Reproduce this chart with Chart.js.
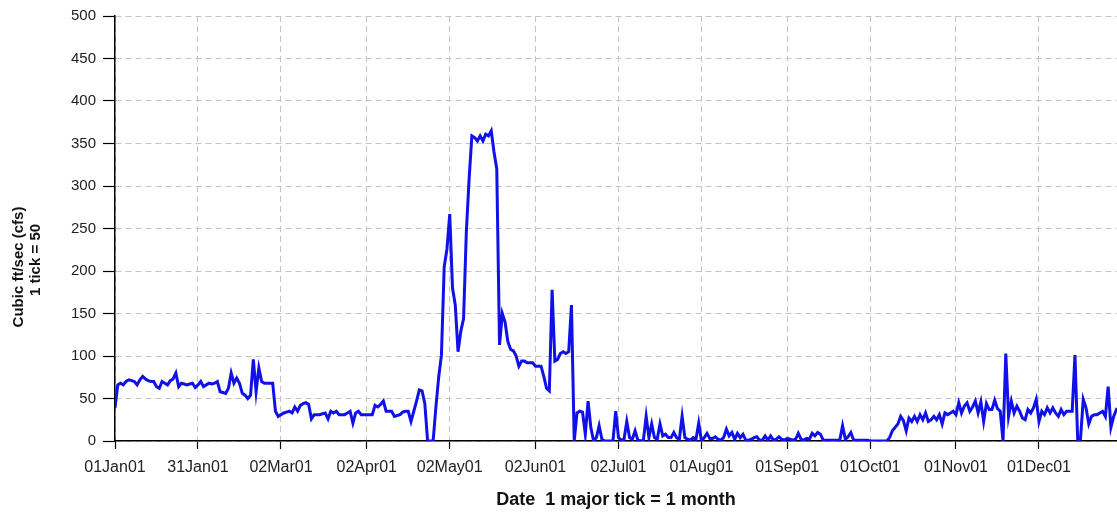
<!DOCTYPE html>
<html>
<head>
<meta charset="utf-8">
<script src="https://cdn.jsdelivr.net/npm/chart.js@4.4.1/dist/chart.umd.min.js"></script>
<style>
  body { margin: 0; background: #fff; }
  #wrap { width: 1117px; height: 515px; }
</style>
</head>
<body>
<div id="wrap"><canvas id="flowChart"></canvas></div>
<script>
// daily flow 2001, day 0 = 01Jan01
const flowCfs = [
  39, 66, 68, 66, 70, 72, 71, 70, 66, 72,
  76, 73, 71, 70, 70, 64, 62, 70, 68, 66,
  71, 73, 80, 64, 68, 67, 66, 67, 68, 63,
  66, 70, 64, 66, 68, 67, 68, 70, 58, 57,
  56, 62, 80, 68, 74, 68, 56, 54, 50, 54,
  96, 58, 86, 70, 68, 68, 68, 68, 35, 29,
  31, 33, 34, 35, 33, 40, 35, 42, 44, 45,
  43, 26, 31, 31, 31, 32, 33, 26, 35, 33,
  35, 31, 31, 31, 33, 35, 21, 33, 35, 31,
  31, 31, 31, 31, 42, 40, 43, 47, 35, 35,
  35, 29, 30, 31, 34, 35, 35, 23, 35, 47,
  60, 59, 44, 0, 0, 0, 40, 75, 101, 205,
  226, 267, 180, 160, 105, 129, 144, 246, 308, 359,
  357, 353, 359, 353, 361, 359, 365, 340, 320, 113,
  150, 140, 117, 108, 106, 100, 88, 94, 94, 92,
  92, 92, 88, 88, 88, 76, 62, 59, 178, 94,
  96, 103, 105, 103, 105, 160, 0, 33, 35, 34,
  8, 47, 16, 0, 4, 18, 2, 0, 0, 0,
  0, 35, 4, 1, 2, 23, 4, 2, 12, 1,
  0, 1, 29, 4, 20, 4, 2, 20, 6, 8,
  4, 4, 10, 4, 2, 29, 4, 2, 1, 4,
  2, 21, 0, 4, 9, 3, 3, 5, 2, 1,
  4, 14, 6, 10, 2, 9, 4, 8, 1, 1,
  2, 4, 5, 1, 1, 6, 1, 6, 1, 2,
  5, 2, 1, 3, 2, 1, 2, 9, 2, 1,
  3, 2, 9, 6, 10, 8, 1, 1, 1, 1,
  1, 1, 1, 18, 2, 5, 10, 1, 1, 1,
  1, 1, 1, 0, 0, 0, 0, 0, 0, 0,
  4, 12, 16, 20, 29, 24, 12, 27, 23, 29,
  23, 31, 25, 33, 23, 25, 29, 25, 31, 20,
  33, 31, 33, 35, 31, 45, 33, 41, 45, 35,
  40, 47, 33, 46, 23, 44, 37, 37, 48, 38,
  35, 0, 103, 29, 47, 33, 41, 35, 27, 25,
  37, 33, 39, 49, 23, 35, 31, 39, 33, 39,
  33, 29, 37, 31, 35, 35, 35, 101, 0, 2,
  49, 39, 20, 29, 31, 31, 33, 35, 29, 64,
  16, 29, 37, 35, 36
];

const monthTickDays = [0, 30, 60, 91, 121, 152, 182, 212, 243, 273, 304, 334];
const monthTickLabels = ['01Jan01', '31Jan01', '02Mar01', '02Apr01', '02May01', '02Jun01',
  '02Jul01', '01Aug01', '01Sep01', '01Oct01', '01Nov01', '01Dec01'];
const yTitleLines = ['Cubic ft/sec (cfs)', '1 tick = 50'];
const xTitle = 'Date  1 major tick = 1 month';

const points = flowCfs.map((v, i) => ({ x: i, y: v }));

// y title is drawn by hand so it can sit a bit below the middle, like the original
const yTitlePlugin = {
  id: 'yTitle',
  afterDraw(chart) {
    const c = chart.ctx;
    const spots = [[19, 267], [36, 260]];
    yTitleLines.forEach((txt, i) => {
      c.save();
      c.font = 'bold 15px "Liberation Sans", Arial, sans-serif';
      c.fillStyle = '#111';
      c.textAlign = 'center';
      c.textBaseline = 'middle';
      c.translate(spots[i][0], spots[i][1]);
      c.rotate(-Math.PI / 2);
      c.fillText(txt, 0, 0);
      c.restore();
    });
  }
};

const ctx = document.getElementById('flowChart').getContext('2d');
new Chart(ctx, {
  type: 'line',
  data: {
    datasets: [{
      data: points,
      borderColor: '#1010e8',
      borderWidth: 3,
      pointRadius: 0,
      tension: 0,
      fill: false
    }]
  },
  options: {
    responsive: true,
    maintainAspectRatio: false,
    animation: false,
    layout: { padding: { top: 14, right: 0, bottom: 0, left: 0 } },
    plugins: {
      legend: { display: false },
      tooltip: { enabled: false }
    },
    scales: {
      x: {
        type: 'linear',
        min: 0,
        max: 362.2,
        afterBuildTicks(scale) {
          scale.ticks = monthTickDays.map(d => ({ value: d }));
        },
        afterFit(scale) { scale.height = 74; },
        ticks: {
          autoSkip: false,
          maxRotation: 0,
          padding: 9,
          color: '#222',
          font: { family: '"Liberation Sans", Arial, sans-serif', size: 16 },
          callback: (value, index) => monthTickLabels[index]
        },
        grid: {
          color: '#c4c4c4',
          tickColor: '#000',
          tickBorderDash: [],
          tickLength: 8,
          tickWidth: 1.2
        },
        border: { display: true, color: '#000', width: 1.5, dash: [6, 4] },
        title: {
          display: true,
          text: xTitle,
          color: '#111',
          font: { family: '"Liberation Sans", Arial, sans-serif', size: 18, weight: 'bold' },
          padding: { top: 0, bottom: 4 }
        }
      },
      y: {
        min: 0,
        max: 500,
        afterFit(scale) { scale.width = 115; },
        ticks: {
          stepSize: 50,
          padding: 7,
          color: '#222',
          font: { family: '"Liberation Sans", Arial, sans-serif', size: 15 }
        },
        grid: {
          color: '#c4c4c4',
          tickColor: '#000',
          tickBorderDash: [],
          tickLength: 12,
          tickWidth: 1.2
        },
        border: { display: true, color: '#000', width: 1.5, dash: [6, 4] }
      }
    }
  },
  plugins: [yTitlePlugin]
});
</script>
</body>
</html>
